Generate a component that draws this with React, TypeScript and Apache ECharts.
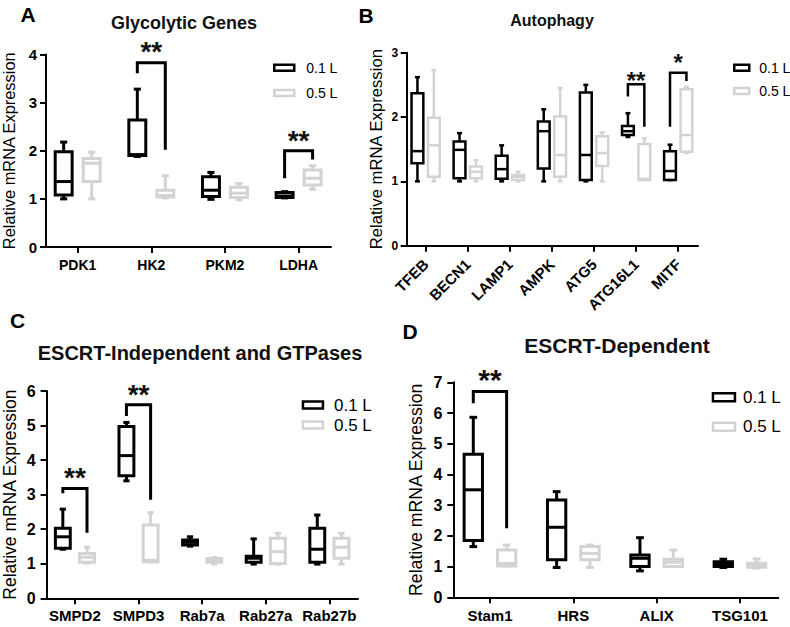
import React, { useEffect, useRef } from 'react';
import * as echarts from 'echarts';

const FONT = "'Liberation Sans', Arial, Helvetica, sans-serif";
const BLACK = '#000000';
const GRAY = '#d3d3d3';
const SERIES_NAMES = ['0.1 L', '0.5 L'];
const Y_NAME = 'Relative mRNA Expression';

// ---------- Panel A: Glycolytic Genes ----------
const catsA = ['PDK1', 'HK2', 'PKM2', 'LDHA'];
// [min, Q1, median, Q3, max]
const a01 = [
  [1.0, 1.08, 1.36, 1.98, 2.18],
  [1.88, 1.9, 1.92, 2.64, 3.28],
  [0.99, 1.05, 1.18, 1.46, 1.55],
  [1.02, 1.03, 1.06, 1.13, 1.15],
];
const a05 = [
  [1.0, 1.36, 1.74, 1.84, 1.97],
  [1.02, 1.04, 1.07, 1.18, 1.48],
  [0.98, 1.03, 1.12, 1.24, 1.32],
  [1.2, 1.29, 1.43, 1.6, 1.69],
];
// [category, left leg bottom, bracket top, right leg bottom, star position]
const sigA = [
  [1, 3.61, 3.83, 2.02, 4.14],
  [3, 1.43, 2.0, 1.82, 2.29],
];
const starsA = ['**', '**'];

// ---------- Panel B: Autophagy ----------
const catsB = ['TFEB', 'BECN1', 'LAMP1', 'AMPK', 'ATG5', 'ATG16L1', 'MITF'];
const b01 = [
  [1.0, 1.28, 1.47, 2.37, 2.62],
  [1.0, 1.05, 1.49, 1.62, 1.75],
  [1.0, 1.04, 1.19, 1.4, 1.56],
  [1.0, 1.2, 1.78, 1.93, 2.12],
  [1.0, 1.02, 1.41, 2.38, 2.5],
  [1.69, 1.72, 1.78, 1.86, 2.06],
  [1.02, 1.02, 1.16, 1.47, 1.57],
];
const b05 = [
  [1.0, 1.07, 1.56, 1.99, 2.73],
  [1.0, 1.05, 1.15, 1.23, 1.33],
  [1.0, 1.02, 1.07, 1.1, 1.15],
  [1.0, 1.07, 1.41, 2.01, 2.45],
  [1.0, 1.24, 1.44, 1.7, 1.76],
  [1.02, 1.02, 1.04, 1.58, 1.67],
  [1.44, 1.46, 1.72, 2.43, 2.47],
];
const sigB = [
  [5, 2.32, 2.51, 1.85, 2.62],
  [6, 1.85, 2.69, 2.56, 2.9],
];
const starsB = ['**', '*'];

// ---------- Panel C: ESCRT-Independent and GTPases ----------
const catsC = ['SMPD2', 'SMPD3', 'Rab7a', 'Rab27a', 'Rab27b'];
const c01 = [
  [1.42, 1.45, 1.78, 2.03, 2.58],
  [3.4, 3.55, 4.13, 4.97, 5.09],
  [1.51, 1.54, 1.62, 1.69, 1.78],
  [0.99, 1.04, 1.16, 1.22, 1.72],
  [0.99, 1.04, 1.42, 2.03, 2.41],
];
const c05 = [
  [1.02, 1.04, 1.19, 1.3, 1.48],
  [1.05, 1.06, 1.1, 2.12, 2.48],
  [0.99, 1.04, 1.09, 1.15, 1.18],
  [0.99, 1.01, 1.35, 1.74, 1.88],
  [0.99, 1.16, 1.48, 1.74, 1.88],
];
const sigC = [
  [0, 3.04, 3.18, 1.9, 3.62],
  [1, 5.28, 5.6, 2.85, 6.03],
];
const starsC = ['**', '**'];

// ---------- Panel D: ESCRT-Dependent ----------
const catsD = ['Stam1', 'HRS', 'ALIX', 'TSG101'];
const d01 = [
  [1.65, 1.85, 3.5, 4.66, 5.86],
  [0.97, 1.22, 2.28, 3.17, 3.44],
  [0.86, 1.0, 1.27, 1.38, 1.94],
  [0.97, 1.0, 1.09, 1.16, 1.24],
];
const d05 = [
  [1.02, 1.02, 1.1, 1.54, 1.7],
  [0.97, 1.22, 1.43, 1.65, 1.7],
  [1.0, 1.0, 1.14, 1.24, 1.54],
  [0.95, 0.98, 1.05, 1.11, 1.25],
];
const sigD = [[0, 6.32, 6.7, 2.25, 7.24]];
const starsD = ['**'];

// ---------- layout / styling per panel ----------
const panels = [
  {
    letter: 'A', title: 'Glycolytic Genes', titleX: 184, titleY: 23, titleSize: 18, letterX: 28, letterY: 14,
    cats: catsA, g1: a01, g2: a05, sig: sigA, stars: starsA, yMax: 4,
    grid: { left: 42, top: 54.5, width: 289, height: 192.5 }, xMin: -0.43, xMax: 3.44,
    off: 0.19, bw: 0.23, lw: 3, yLabelSize: 15, yLabelMargin: 9, xLabelSize: 14, xLabelMargin: 11, rotate: 0,
    nameSize: 16.4, nameGap: 29, starSize: 28, bracketLw: 3,
    leg: { left: 273, top: 60.7, iw: 20, ih: 6, gap: 11.3, fs: 14, pad: 7 },
  },
  {
    letter: 'B', title: 'Autophagy', titleX: 552, titleY: 20, titleSize: 16, letterX: 366, letterY: 15,
    cats: catsB, g1: b01, g2: b05, sig: sigB, stars: starsB, yMax: 3,
    grid: { left: 406.7, top: 52.7, width: 291.3, height: 193 }, xMin: -0.45, xMax: 6.47,
    off: 0.195, bw: 0.28, lw: 2.5, yLabelSize: 12, yLabelMargin: 8.5, xLabelSize: 15, xLabelMargin: 16, rotate: 45,
    nameSize: 16.7, nameGap: 22, starSize: 24, bracketLw: 2.5,
    leg: { left: 733, top: 60.7, iw: 15, ih: 6, gap: 9.3, fs: 14, pad: 5 },
  },
  {
    letter: 'C', title: 'ESCRT-Independent and GTPases', titleX: 200, titleY: 353, titleSize: 20, letterX: 17.5, letterY: 320.5,
    cats: catsC, g1: c01, g2: c05, sig: sigC, stars: starsC, yMax: 6,
    grid: { left: 44.3, top: 391, width: 313.7, height: 207.3 }, xMin: -0.445, xMax: 4.45,
    off: 0.19, bw: 0.234, lw: 3, yLabelSize: 16, yLabelMargin: 11, xLabelSize: 15, xLabelMargin: 10, rotate: 0,
    nameSize: 17.5, nameGap: 27.6, starSize: 28, bracketLw: 3,
    leg: { left: 301.7, top: 396.5, iw: 20, ih: 7, gap: 3, fs: 17, pad: 6 },
  },
  {
    letter: 'D', title: 'ESCRT-Dependent', titleX: 617, titleY: 345, titleSize: 21, letterX: 410, letterY: 331,
    cats: catsD, g1: d01, g2: d05, sig: sigD, stars: starsD, yMax: 7,
    grid: { left: 453.3, top: 382.3, width: 325, height: 215 }, xMin: -0.44, xMax: 3.46,
    off: 0.2, bw: 0.22, lw: 3, yLabelSize: 16, yLabelMargin: 11, xLabelSize: 15, xLabelMargin: 11, rotate: 0,
    nameSize: 17.7, nameGap: 28.3, starSize: 30, bracketLw: 3,
    leg: { left: 711.7, top: 388.8, iw: 22, ih: 8, gap: 12.4, fs: 17, pad: 3 },
  },
];

const boxRenderer = (off: number, bw: number, color: string, lw: number) => (_params: any, api: any) => {
  const x = api.value(0) + off;
  const pMin = api.coord([x, api.value(1)]);
  const yQ1 = api.coord([x, api.value(2)])[1];
  const yMed = api.coord([x, api.value(3)])[1];
  const yQ3 = api.coord([x, api.value(4)])[1];
  const yMax = api.coord([x, api.value(5)])[1];
  const cx = pMin[0];
  const yMin = pMin[1];
  const w = api.size([bw, 0])[0];
  const cap = w * 0.42;
  const st = { stroke: color, lineWidth: lw, fill: 'none' };
  return {
    type: 'group',
    children: [
      { type: 'line', shape: { x1: cx, y1: yMax, x2: cx, y2: yQ3 }, style: st },
      { type: 'line', shape: { x1: cx, y1: yQ1, x2: cx, y2: yMin }, style: st },
      { type: 'line', shape: { x1: cx - cap / 2, y1: yMax, x2: cx + cap / 2, y2: yMax }, style: st },
      { type: 'line', shape: { x1: cx - cap / 2, y1: yMin, x2: cx + cap / 2, y2: yMin }, style: st },
      { type: 'rect', shape: { x: cx - w / 2, y: yQ3, width: w, height: yQ1 - yQ3 }, style: st },
      { type: 'line', shape: { x1: cx - w / 2, y1: yMed, x2: cx + w / 2, y2: yMed }, style: st },
    ],
  };
};

const sigRenderer = (off: number, lw: number, starSize: number, stars: string[]) => (params: any, api: any) => {
  const c = api.value(0);
  const l = api.coord([c - off, api.value(1)]);
  const lt = api.coord([c - off, api.value(2)]);
  const rt = api.coord([c + off, api.value(2)]);
  const r = api.coord([c + off, api.value(3)]);
  const s = api.coord([c, api.value(4)]);
  return {
    type: 'group',
    children: [
      {
        type: 'polyline',
        shape: { points: [l, lt, rt, r] },
        style: { stroke: BLACK, lineWidth: lw, fill: 'none', lineJoin: 'miter' },
      },
      {
        type: 'text',
        x: s[0],
        y: s[1] + starSize * 0.15,
        style: {
          text: stars[params.dataIndex],
          fontSize: starSize,
          fontWeight: 'bold',
          fontFamily: FONT,
          fill: '#111111',
          align: 'center',
          textAlign: 'center',
          verticalAlign: 'middle',
          textVerticalAlign: 'middle',
        },
      },
    ],
  };
};

function buildOption() {
  const grid: any[] = [];
  const xAxis: any[] = [];
  const yAxis: any[] = [];
  const series: any[] = [];
  const legend: any[] = [];
  const graphic: any[] = [];

  panels.forEach((p, i) => {
    grid.push({ ...p.grid, containLabel: false });
    const idx = p.cats.map((_c, k) => k);
    xAxis.push({
      gridIndex: i,
      type: 'value',
      min: p.xMin,
      max: p.xMax,
      splitLine: { show: false },
      axisLine: { show: true, onZero: false, lineStyle: { color: BLACK, width: 2 } },
      axisTick: { show: true, customValues: idx, length: 6, lineStyle: { color: BLACK, width: 2 } },
      axisLabel: {
        show: true,
        customValues: idx,
        formatter: (v: number) => p.cats[Math.round(v)] ?? '',
        color: BLACK,
        fontFamily: FONT,
        fontWeight: 'bold',
        fontSize: p.xLabelSize,
        margin: p.xLabelMargin,
        rotate: p.rotate,
      },
    });
    yAxis.push({
      gridIndex: i,
      type: 'value',
      min: 0,
      max: p.yMax,
      interval: 1,
      splitLine: { show: false },
      axisLine: { show: true, onZero: false, lineStyle: { color: BLACK, width: 2 } },
      axisTick: { show: true, length: 6, lineStyle: { color: BLACK, width: 2 } },
      axisLabel: {
        color: BLACK,
        fontFamily: FONT,
        fontWeight: 'bold',
        fontSize: p.yLabelSize,
        margin: p.yLabelMargin,
      },
      name: Y_NAME,
      nameLocation: 'middle',
      nameGap: p.nameGap,
      nameTextStyle: { color: BLACK, fontFamily: FONT, fontSize: p.nameSize },
    });

    [p.g1, p.g2].forEach((g, gi) => {
      const color = gi === 0 ? BLACK : GRAY;
      series.push({
        type: 'custom',
        name: SERIES_NAMES[gi],
        xAxisIndex: i,
        yAxisIndex: i,
        clip: false,
        itemStyle: { color: '#ffffff', borderColor: color, borderWidth: 2.5 },
        renderItem: boxRenderer(gi === 0 ? -p.off : p.off, p.bw, color, p.lw),
        encode: { x: 0, y: [1, 2, 3, 4, 5] },
        data: g.map((v, k) => [k, ...v]),
        z: gi === 0 ? 3 : 2,
      });
    });

    series.push({
      type: 'custom',
      name: 'sig' + i,
      xAxisIndex: i,
      yAxisIndex: i,
      clip: false,
      renderItem: sigRenderer(p.off, p.bracketLw, p.starSize, p.stars),
      encode: { x: 0, y: [1, 2, 3, 4] },
      data: p.sig,
      z: 4,
    });

    legend.push({
      orient: 'vertical',
      left: p.leg.left,
      top: p.leg.top,
      padding: 0,
      itemWidth: p.leg.iw,
      itemHeight: p.leg.ih,
      itemGap: p.leg.gap,
      selectedMode: false,
      icon: 'rect',
      textStyle: { color: BLACK, fontFamily: FONT, fontSize: p.leg.fs, padding: [0, 0, 0, p.leg.pad] },
      data: [
        { name: SERIES_NAMES[0], itemStyle: { color: '#ffffff', borderColor: BLACK, borderWidth: 2.5 } },
        { name: SERIES_NAMES[1], itemStyle: { color: '#ffffff', borderColor: GRAY, borderWidth: 2.5 } },
      ],
    });

    graphic.push({
      type: 'text',
      x: p.titleX,
      y: p.titleY,
      style: {
        text: p.title,
        fontFamily: FONT,
        fontWeight: 'bold',
        fontSize: p.titleSize,
        fill: '#111111',
        textAlign: 'center',
        textVerticalAlign: 'middle',
      },
    });
    graphic.push({
      type: 'text',
      x: p.letterX,
      y: p.letterY,
      style: {
        text: p.letter,
        fontFamily: FONT,
        fontWeight: 'bold',
        fontSize: 21,
        fill: '#000000',
        textAlign: 'center',
        textVerticalAlign: 'middle',
      },
    });
  });

  return {
    animation: false,
    backgroundColor: '#ffffff',
    textStyle: { fontFamily: FONT },
    grid,
    xAxis,
    yAxis,
    series,
    legend,
    graphic,
  };
}

export default function App() {
  const ref = useRef<HTMLDivElement>(null);
  useEffect(() => {
    if (!ref.current) return;
    const chart = echarts.init(ref.current, undefined, { renderer: 'svg' });
    chart.setOption(buildOption() as any);
    return () => chart.dispose();
  }, []);
  return (
    <div
      ref={ref}
      style={{ position: 'absolute', left: 0, top: 0, width: 790, height: 627, background: '#fff' }}
    />
  );
}
